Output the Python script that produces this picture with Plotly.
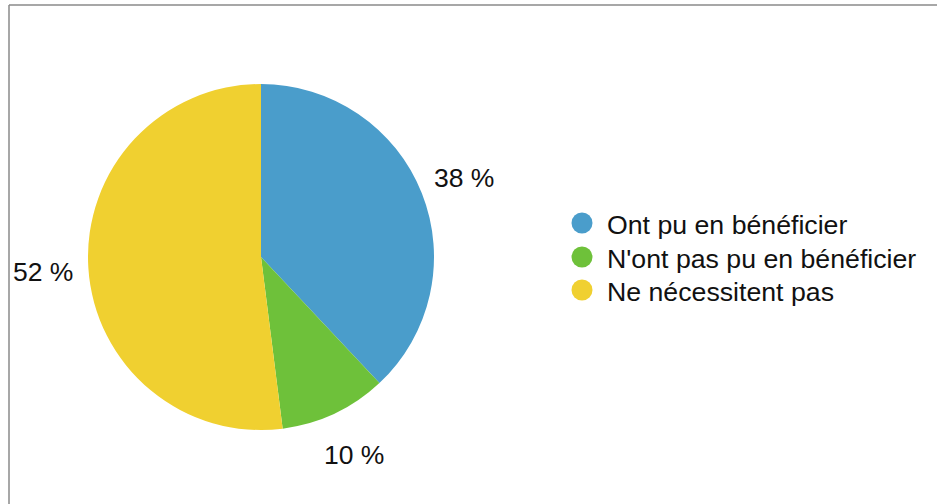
import math
import plotly.graph_objects as go

# Survey breakdown
labels = ["Ont pu en bénéficier", "N'ont pas pu en bénéficier", "Ne nécessitent pas"]
values = [38, 10, 52]
colors = ["#4A9DCB", "#6EC13A", "#F0D030"]

W, H = 937, 504
FONT = "Liberation Sans, Arial, Helvetica, sans-serif"

# pie placement in pixels
CX, CY, R = 261, 257, 173
LABEL_R = 218

def px_x(x):
    return x / W

def px_y(y):
    return 1 - y / H

fig = go.Figure()
fig.add_trace(go.Pie(
    labels=labels,
    values=values,
    marker=dict(colors=colors, line=dict(width=0)),
    sort=False,
    direction="clockwise",
    rotation=0,
    textinfo="none",
    showlegend=False,
    hoverinfo="label+percent",
    domain=dict(x=[px_x(CX - R), px_x(CX + R)], y=[px_y(CY + R), px_y(CY - R)]),
))

shapes = [
    # frame lines (top and left)
    dict(type="line", xref="paper", yref="paper",
         x0=px_x(9), x1=1.0, y0=px_y(5), y1=px_y(5),
         line=dict(color="#8a8a8a", width=1.5)),
    dict(type="line", xref="paper", yref="paper",
         x0=px_x(9), x1=px_x(9), y0=px_y(5), y1=0.0,
         line=dict(color="#8a8a8a", width=1.5)),
]
annotations = []

# Percentage labels placed outside each slice at its mid-angle
total = sum(values)
cum = 0
for v in values:
    mid = (cum + v / 2) / total * 2 * math.pi
    cum += v
    lx = CX + LABEL_R * math.sin(mid)
    ly = CY - LABEL_R * math.cos(mid)
    annotations.append(dict(x=px_x(lx), y=px_y(ly + 1), xref="paper", yref="paper",
                            text=f"{v} %", showarrow=False,
                            xanchor="center", yanchor="middle",
                            font=dict(family=FONT, size=26.5, color="#111111")))

# Legend with round markers
row_y = [223, 257, 290]
for lab, col, yc in zip(labels, colors, row_y):
    r = 10.5
    shapes.append(dict(type="circle", xref="paper", yref="paper",
                       x0=px_x(582 - r), x1=px_x(582 + r),
                       y0=px_y(yc + r), y1=px_y(yc - r),
                       fillcolor=col, line=dict(width=0)))
    annotations.append(dict(x=px_x(605), y=px_y(yc + 2), xref="paper", yref="paper",
                            text=lab, showarrow=False, xanchor="left", yanchor="middle",
                            font=dict(family=FONT, size=26.7, color="#111111")))

fig.update_layout(
    width=W, height=H,
    margin=dict(l=0, r=0, t=0, b=0),
    paper_bgcolor="white",
    plot_bgcolor="white",
    shapes=shapes,
    annotations=annotations,
    font=dict(family=FONT),
)

fig.write_html("out.html")
